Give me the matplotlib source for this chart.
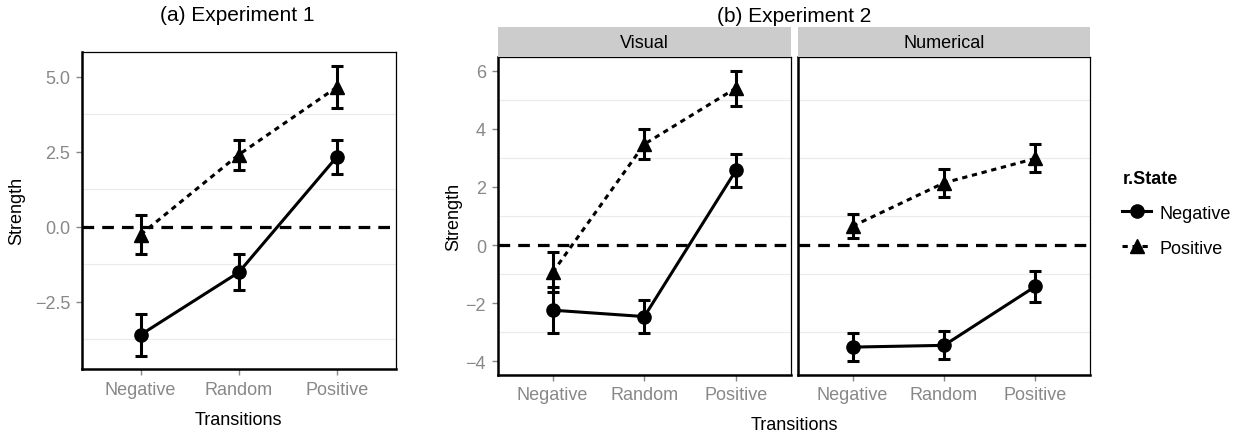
import numpy as np
import matplotlib; matplotlib.use('Agg')
import matplotlib.pyplot as plt
from matplotlib.lines import Line2D

plt.rcParams['font.family'] = ['Liberation Sans', 'DejaVu Sans']
plt.rcParams['lines.scale_dashes'] = False

# data
transitions = ["Negative", "Random", "Positive"]
states = ["Negative", "Positive"]

# (a) Experiment 1
exp1_neg = [-3.60, -1.52, 2.33]
exp1_neg_err = [0.70, 0.60, 0.57]
exp1_pos = [-0.26, 2.40, 4.65]
exp1_pos_err = [0.65, 0.50, 0.70]

# (b) Experiment 2, facets Visual / Numerical
facets = ["Visual", "Numerical"]
vis_neg = [-2.24, -2.46, 2.57]
vis_neg_err = [0.80, 0.57, 0.56]
vis_pos = [-0.94, 3.47, 5.40]
vis_pos_err = [0.69, 0.52, 0.60]
num_neg = [-3.51, -3.45, -1.42]
num_neg_err = [0.47, 0.48, 0.54]
num_pos = [0.65, 2.14, 2.98]
num_pos_err = [0.42, 0.48, 0.48]

exp1_yticks = [-2.5, 0.0, 2.5, 5.0]
exp1_ylabels = ["\u22122.5", "0.0", "2.5", "5.0"]
exp2_yticks = [-4, -2, 0, 2, 4, 6]
exp2_ylabels = ["\u22124", "\u22122", "0", "2", "4", "6"]

FS = 13
tickcol = '#888888'
lw = 2.2
dots = (0, (3.8, 3.4))

fig = plt.figure(figsize=(12.33, 4.35), dpi=100)

def draw_panel(ax, neg, negerr, pos, poserr, ylim, yticks, ylabels):
    x = np.arange(1, len(transitions) + 1)
    ax.set_xlim(0.4, 3.6)
    ax.set_ylim(*ylim)
    # minor grid only (major is white in the original)
    minor = (np.array(yticks[:-1]) + np.array(yticks[1:])) / 2.0
    step = yticks[1] - yticks[0]
    minor = np.concatenate([[yticks[0] - step / 2.0], minor, [yticks[-1] + step / 2.0]])
    for m in minor:
        if ylim[0] < m < ylim[1]:
            ax.axhline(m, color='#ebebeb', lw=0.8, zorder=0)
    ax.axhline(0, color='black', lw=2.3, linestyle=(0, (8.4, 5.8)), zorder=1)
    ax.plot(x, neg, color='black', lw=lw, zorder=2)
    ax.plot(x, pos, color='black', lw=lw, linestyle=dots, zorder=2)
    ax.errorbar(x, neg, yerr=negerr, fmt='none', ecolor='black', elinewidth=lw,
                capsize=4, capthick=lw, zorder=3)
    ax.errorbar(x, pos, yerr=poserr, fmt='none', ecolor='black', elinewidth=lw,
                capsize=4, capthick=lw, zorder=3)
    ax.plot(x, neg, 'o', color='black', ms=9.5, zorder=4)
    ax.plot(x, pos, '^', color='black', ms=10.5, zorder=4)
    ax.set_xticks(x)
    ax.set_xticklabels(transitions)
    ax.set_yticks(yticks)
    ax.set_yticklabels(ylabels)
    ax.tick_params(axis='both', colors=tickcol, labelcolor=tickcol, labelsize=FS,
                   length=4.3, width=1.0, pad=4)
    for s in ['top', 'right']:
        ax.spines[s].set_linewidth(0.9)
    for s in ['left', 'bottom']:
        ax.spines[s].set_linewidth(1.8)

# (a)
ax1 = fig.add_axes([0.0663, 0.1494, 0.2547, 0.7294])
draw_panel(ax1, exp1_neg, exp1_neg_err, exp1_pos, exp1_pos_err,
           (-4.74, 5.83), exp1_yticks, exp1_ylabels)
ax1.set_xlabel("Transitions", fontsize=FS, labelpad=10)
ax1.set_ylabel("Strength", fontsize=FS)
ax1.yaxis.set_label_coords(-0.18, 0.5)
fig.text(0.1926, 0.964, "(a) Experiment 1", ha='center', va='center', fontsize=15)

# (b)
ax2 = fig.add_axes([0.4036, 0.1363, 0.2379, 0.7297])
draw_panel(ax2, vis_neg, vis_neg_err, vis_pos, vis_pos_err,
           (-4.46, 6.46), exp2_yticks, exp2_ylabels)
ax2.set_ylabel("Strength", fontsize=FS)
ax2.yaxis.set_label_coords(-0.121, 0.5)

ax3 = fig.add_axes([0.6470, 0.1363, 0.2373, 0.7297])
draw_panel(ax3, num_neg, num_neg_err, num_pos, num_pos_err,
           (-4.46, 6.46), exp2_yticks, exp2_ylabels)
ax3.tick_params(axis='y', left=False, labelleft=False)

# facet strips
for ax, name in zip([ax2, ax3], facets):
    pos = ax.get_position()
    sax = fig.add_axes([pos.x0, pos.y1, pos.width, 0.069])
    sax.set_facecolor('#cccccc')
    sax.set_xticks([]); sax.set_yticks([])
    for s in sax.spines.values():
        s.set_visible(False)
    sax.text(0.5, 0.5, name, ha='center', va='center', fontsize=FS, transform=sax.transAxes)

fig.text(0.644, 0.962, "(b) Experiment 2", ha='center', va='center', fontsize=15)
fig.text(0.644, 0.022, "Transitions", ha='center', va='center', fontsize=FS)

# legend
handles = [Line2D([], [], color='black', lw=lw, marker='o', ms=9.5),
           Line2D([], [], color='black', lw=lw, linestyle=dots, marker='^', ms=10.5)]
leg = fig.legend(handles, states, title="r.State", loc='upper left',
                 bbox_to_anchor=(0.897, 0.645), frameon=False, fontsize=FS,
                 title_fontproperties={'weight': 'bold', 'size': FS},
                 handlelength=1.6, handletextpad=0.45, labelspacing=1.0,
                 alignment='left')

fig.savefig("out.png", dpi=100)
